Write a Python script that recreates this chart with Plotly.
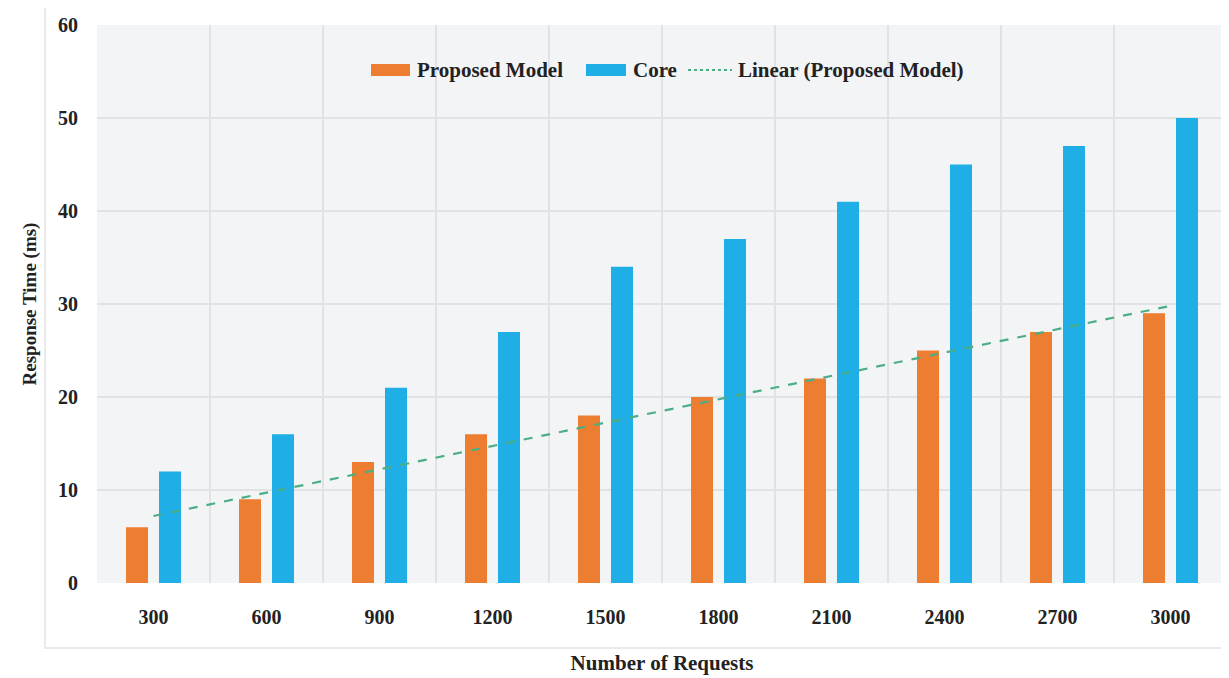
import plotly.graph_objects as go

categories = ["300", "600", "900", "1200", "1500", "1800", "2100", "2400", "2700", "3000"]
proposed_model = [6, 9, 13, 16, 18, 20, 22, 25, 27, 29]
core = [12, 16, 21, 27, 34, 37, 41, 45, 47, 50]
trend_categories = ["300", "3000"]
trend_values = [7.2, 29.8]
y_ticks = [0, 10, 20, 30, 40, 50, 60]

FONT = "Liberation Serif"
ORANGE = "#ED7D31"
BLUE = "#1FAEE5"
GREEN = "#4BAE84"
TXT = "#222222"

fig = go.Figure()
fig.add_trace(go.Bar(x=categories, y=proposed_model, name="Proposed Model",
                     marker=dict(color=ORANGE, line=dict(width=0)), showlegend=False))
fig.add_trace(go.Bar(x=categories, y=core, name="Core",
                     marker=dict(color=BLUE, line=dict(width=0)), showlegend=False))
fig.add_trace(go.Scatter(x=trend_categories, y=trend_values, mode="lines",
                         name="Linear (Proposed Model)", showlegend=False,
                         line=dict(color=GREEN, width=2.2, dash="dash")))

# page body has an 8px margin, so the figure is offset by 8px
OFF = 8
W, H = 1221, 670
L, R, T, B = 89, 2, 17, 95
pw, ph = W - L - R, H - T - B

def px_x(x):
    return (x - OFF - L) / pw

def px_y(y):
    return (OFF + H - B - y) / ph

# outer chart-area border
fig.add_shape(type="rect", xref="paper", yref="paper",
              x0=px_x(45), x1=px_x(1232), y0=px_y(648), y1=px_y(5),
              line=dict(color="#e4e4e4", width=1.5), fillcolor="rgba(0,0,0,0)",
              layer="below")

# legend (drawn manually to get the wide Excel-style swatches)
ly = 70
legend_items = [
    ("rect", ORANGE, 371, 410, "Proposed Model", 415),
    ("rect", BLUE, 586, 626, "Core", 631),
    ("line", GREEN, 688, 732, "Linear (Proposed Model)", 736),
]
for kind, col, x0, x1, label, tx in legend_items:
    if kind == "rect":
        fig.add_shape(type="rect", xref="paper", yref="paper",
                      x0=px_x(x0), x1=px_x(x1), y0=px_y(ly + 6), y1=px_y(ly - 6),
                      fillcolor=col, line=dict(width=0))
    else:
        fig.add_shape(type="line", xref="paper", yref="paper",
                      x0=px_x(x0), x1=px_x(x1), y0=px_y(ly), y1=px_y(ly),
                      line=dict(color=col, width=2.2, dash="dot"))
    fig.add_annotation(xref="paper", yref="paper", x=px_x(tx), y=px_y(ly),
                       xanchor="left", yanchor="middle", showarrow=False,
                       text="<b>%s</b>" % label,
                       font=dict(family=FONT, size=21, color=TXT))

fig.update_layout(
    width=W, height=H,
    margin=dict(l=L, r=R, t=T, b=B),
    paper_bgcolor="white",
    plot_bgcolor="#f3f4f6",
    barmode="group",
    bargap=0.416,
    bargroupgap=0.333,
    showlegend=False,
    font=dict(family=FONT, size=18, color=TXT),
    xaxis=dict(
        type="category",
        tickson="boundaries",
        showgrid=True, gridcolor="#e1e2e4", gridwidth=1.5,
        showline=False, zeroline=False, automargin=False,
        ticks="", ticklabelstandoff=20,
        tickfont=dict(family=FONT, size=20, color=TXT, weight="bold"),
        title=dict(text="<b>Number of Requests</b>", font=dict(family=FONT, size=21, color=TXT),
                   standoff=28),
    ),
    yaxis=dict(
        range=[0, 60], tickvals=y_ticks,
        showgrid=True, gridcolor="#e1e2e4", gridwidth=1.5,
        showline=False, zeroline=False, automargin=False,
        ticks="", ticklabelstandoff=18,
        tickfont=dict(family=FONT, size=20, color=TXT, weight="bold"),
        title=dict(text="<b>Response Time (ms)</b>", font=dict(family=FONT, size=19, color=TXT),
                   standoff=16),
    ),
)

fig.write_html("out.html")
